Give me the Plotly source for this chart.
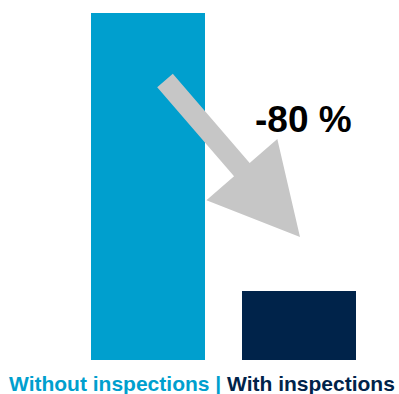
import math
import plotly.graph_objects as go

categories = ["Without inspections", "With inspections"]
values = [100, 20]
bar_colors = ["#009FCE", "#00234A"]
change_label = "-80 %"

W, H = 399, 394
M_B = 34
Y_MAX = 103.8
X_MIN, X_MAX = -0.980, 1.662

fig = go.Figure()
fig.add_trace(go.Bar(
    x=[0, 1], y=values, width=0.755,
    marker=dict(color=bar_colors, line=dict(width=0)),
    hoverinfo="skip", showlegend=False,
))

plot_h = H - M_B
def px_to_data(px, py):
    x = X_MIN + px / W * (X_MAX - X_MIN)
    y = (plot_h - py) / plot_h * Y_MAX
    return x, y

# arrow geometry in pixel space
tail = (165.0, 80.5)
tip = (300.0, 237.0)
dx, dy = tip[0] - tail[0], tip[1] - tail[1]
L = math.hypot(dx, dy)
ux, uy = dx / L, dy / L
nx, ny = -uy, ux
head_len = 89.0
head_half = 46.8
shaft_half = 10.3
bx, by = tip[0] - ux * head_len, tip[1] - uy * head_len
pts = [
    (tail[0] + nx * shaft_half, tail[1] + ny * shaft_half),
    (bx + nx * shaft_half, by + ny * shaft_half),
    (bx + nx * head_half, by + ny * head_half),
    tip,
    (bx - nx * head_half, by - ny * head_half),
    (bx - nx * shaft_half, by - ny * shaft_half),
    (tail[0] - nx * shaft_half, tail[1] - ny * shaft_half),
]
dpts = [px_to_data(*p) for p in pts]
path = "M " + " L ".join(f"{x:.4f},{y:.4f}" for x, y in dpts) + " Z"
fig.add_shape(type="path", path=path, xref="x", yref="y",
              fillcolor="#C6C6C6", line=dict(width=0), layer="above")

lx, ly = px_to_data(303.5, 119)
fig.add_annotation(x=lx, y=ly, xref="x", yref="y", text=f"<b>{change_label}</b>",
                   showarrow=False, xanchor="center", yanchor="middle",
                   font=dict(family="Liberation Sans, Arial", size=37, color="#000000"))

fig.add_annotation(
    x=202 / W, y=(plot_h - 383) / plot_h, xref="paper", yref="paper",
    yanchor="middle", xanchor="center", showarrow=False,
    text=(f'<b><span style="color:{bar_colors[0]}">{categories[0]} |</span> '
          f'<span style="color:{bar_colors[1]}">{categories[1]}</span></b>'),
    font=dict(family="Liberation Sans, Arial", size=21),
)

fig.update_layout(
    width=W, height=H, autosize=False,
    margin=dict(l=0, r=0, t=0, b=M_B, pad=0),
    paper_bgcolor="white", plot_bgcolor="white",
    xaxis=dict(range=[X_MIN, X_MAX], visible=False, fixedrange=True),
    yaxis=dict(range=[0, Y_MAX], visible=False, fixedrange=True),
    bargap=0,
)

fig.write_html("out.html", config={"displayModeBar": False},
               post_script="document.body.style.margin='0';document.body.style.overflow='hidden';")
